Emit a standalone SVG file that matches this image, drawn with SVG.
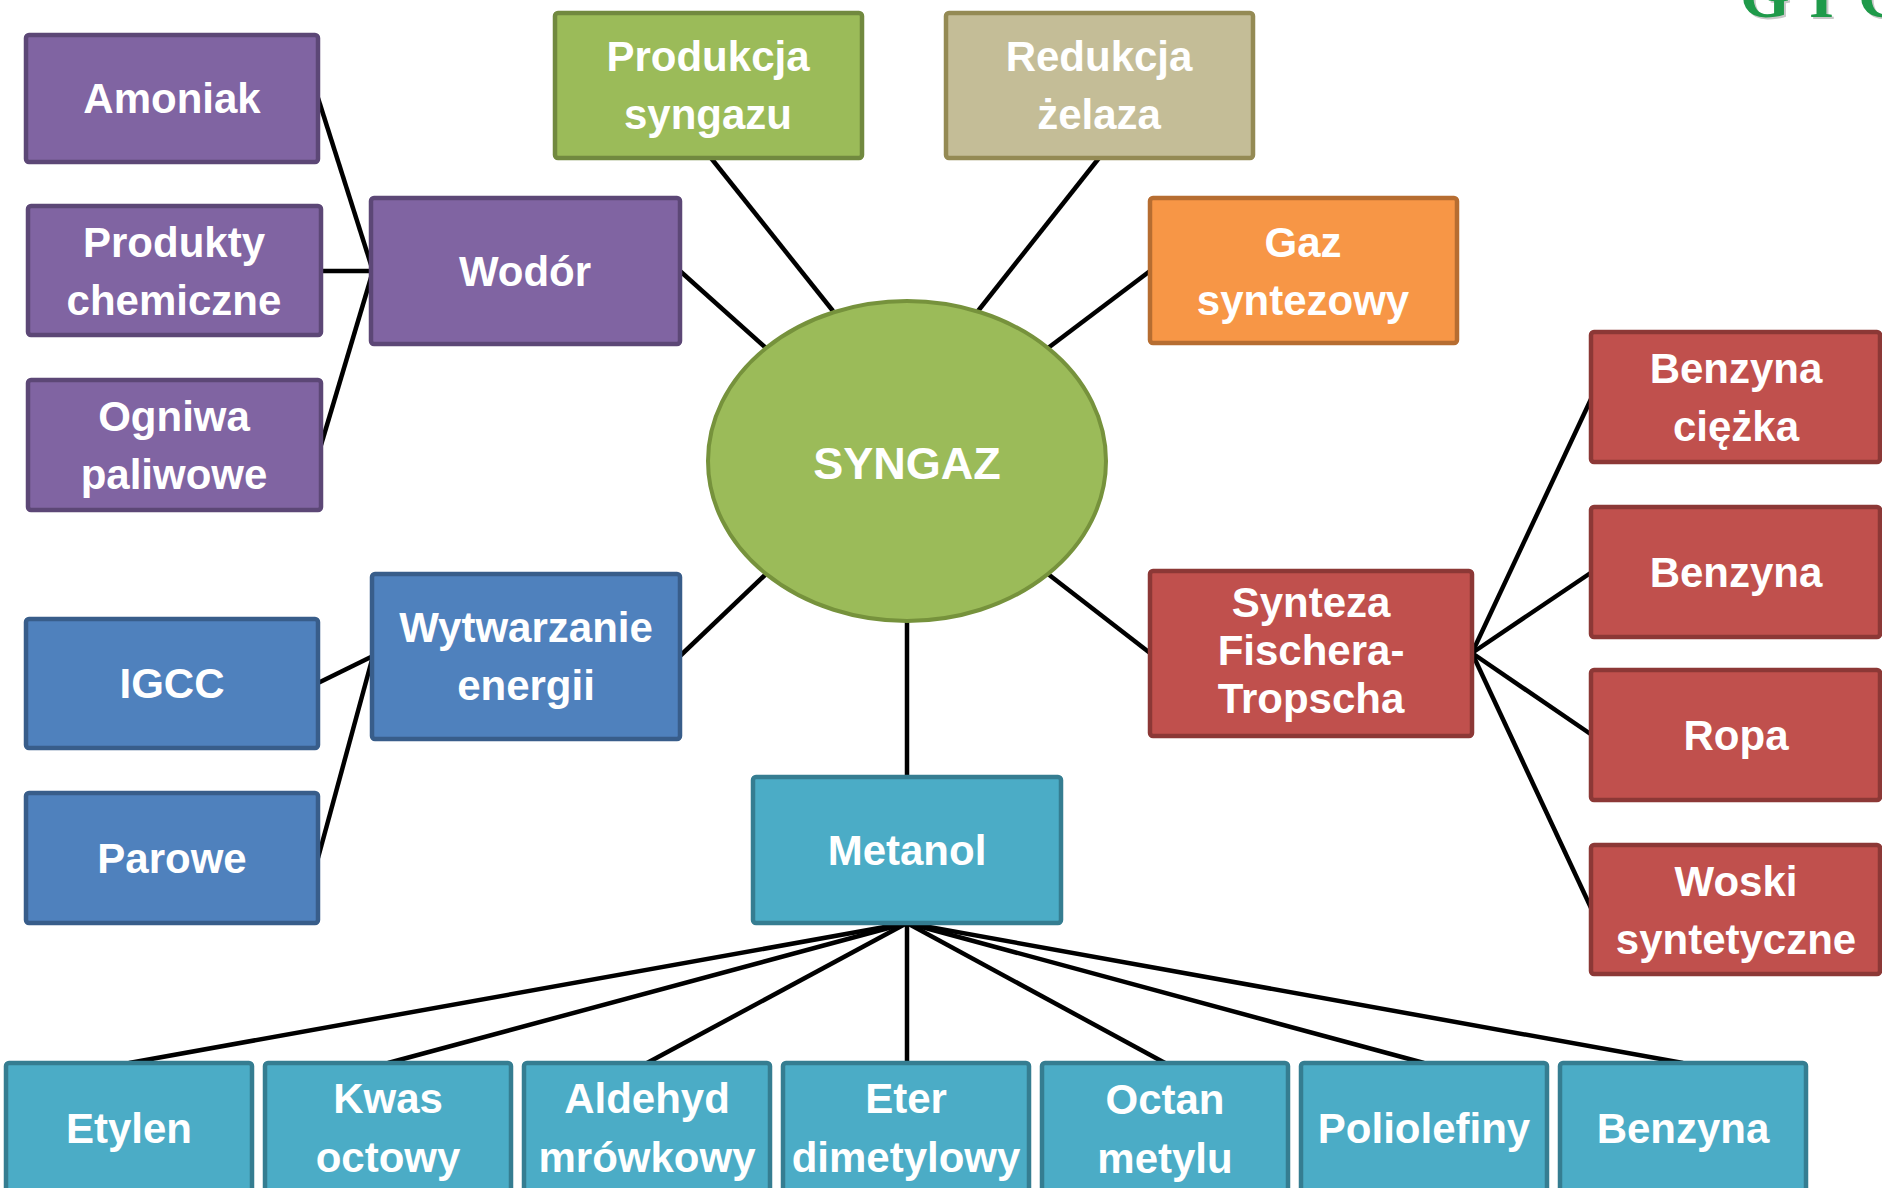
<svg xmlns="http://www.w3.org/2000/svg" width="1882" height="1188" viewBox="0 0 1882 1188">
  <style>
    .box { stroke-width: 4.5; }
    .purple { fill: #8064a2; stroke: #5c4776; }
    .blue { fill: #4f81bd; stroke: #385d8a; }
    .red { fill: #c0504d; stroke: #8c3836; }
    .green { fill: #9bbb59; stroke: #71893f; }
    .tan { fill: #c4bd97; stroke: #948a54; }
    .orange { fill: #f79646; stroke: #b66d31; }
    .aqua { fill: #4bacc6; stroke: #357d91; }
    .lbl { font-family: "Liberation Sans", Arial, sans-serif; font-weight: bold; font-size: 42px; fill: #ffffff; text-anchor: middle; }
    .hub { font-size: 45px; }
    .links line { stroke: #000000; stroke-width: 4.5; }
    .logo { font-family: "Liberation Serif", "Times New Roman", serif; font-weight: bold; font-size: 64px; }
  </style>

  <rect width="1882" height="1188" fill="#ffffff"/>

  <!-- logo lettering, cut by the top edge -->
  <g id="logo">
    <text class="logo" x="1742" y="19" fill="#c8c8c8">
      <tspan x="1742">G</tspan><tspan x="1811">I</tspan><tspan x="1860">G</tspan>
    </text>
    <text class="logo" x="1740" y="17" fill="#1f9a4a">
      <tspan x="1740">G</tspan><tspan x="1809">I</tspan><tspan x="1858">G</tspan>
    </text>
  </g>

  <!-- connectors -->
  <g id="connectors" class="links">
    <line x1="318" y1="98" x2="373" y2="271"/>
    <line x1="321" y1="271" x2="373" y2="271"/>
    <line x1="321" y1="445" x2="373" y2="271"/>
    <line x1="680" y1="271" x2="766" y2="348"/>
    <line x1="711" y1="158" x2="833" y2="311"/>
    <line x1="1099" y1="158" x2="978" y2="311"/>
    <line x1="1150" y1="271" x2="1048" y2="348"/>
    <line x1="680" y1="656" x2="766" y2="574"/>
    <line x1="318" y1="683" x2="373" y2="656"/>
    <line x1="318" y1="858" x2="373" y2="656"/>
    <line x1="1150" y1="653" x2="1048" y2="574"/>
    <line x1="1472" y1="653" x2="1592" y2="397"/>
    <line x1="1472" y1="653" x2="1592" y2="572"/>
    <line x1="1472" y1="653" x2="1592" y2="735"/>
    <line x1="1472" y1="653" x2="1592" y2="910"/>
    <line x1="907" y1="621" x2="907" y2="777"/>
    <line x1="907" y1="923" x2="129" y2="1063"/>
    <line x1="907" y1="923" x2="388" y2="1063"/>
    <line x1="907" y1="923" x2="647" y2="1063"/>
    <line x1="907" y1="923" x2="907" y2="1063"/>
    <line x1="907" y1="923" x2="1165" y2="1063"/>
    <line x1="907" y1="923" x2="1424" y2="1063"/>
    <line x1="907" y1="923" x2="1683" y2="1063"/>
  </g>

  <!-- central hub -->
  <g id="syngaz">
    <ellipse cx="907" cy="461" rx="199" ry="160" fill="#9bbb59" stroke="#76923c" stroke-width="4"/>
    <text class="lbl hub" x="907" y="479">SYNGAZ</text>
  </g>

  <!-- hydrogen branch -->
  <g id="amoniak">
    <rect class="box purple" x="26" y="35" width="292" height="127" rx="3"/>
    <text class="lbl" x="172" y="113">Amoniak</text>
  </g>
  <g id="produkty-chemiczne">
    <rect class="box purple" x="28" y="206" width="293" height="129" rx="3"/>
    <text class="lbl" x="174" y="257">Produkty</text>
    <text class="lbl" x="174" y="315">chemiczne</text>
  </g>
  <g id="ogniwa-paliwowe">
    <rect class="box purple" x="28" y="380" width="293" height="130" rx="3"/>
    <text class="lbl" x="174" y="431">Ogniwa</text>
    <text class="lbl" x="174" y="489">paliwowe</text>
  </g>
  <g id="wodor">
    <rect class="box purple" x="371" y="198" width="309" height="146" rx="3"/>
    <text class="lbl" x="525" y="286">Wodór</text>
  </g>

  <!-- upper branches -->
  <g id="produkcja-syngazu">
    <rect class="box green" x="555" y="13" width="307" height="145" rx="3"/>
    <text class="lbl" x="708" y="71">Produkcja</text>
    <text class="lbl" x="708" y="129">syngazu</text>
  </g>
  <g id="redukcja-zelaza">
    <rect class="box tan" x="946" y="13" width="307" height="145" rx="3"/>
    <text class="lbl" x="1099" y="71">Redukcja</text>
    <text class="lbl" x="1099" y="129">żelaza</text>
  </g>
  <g id="gaz-syntezowy">
    <rect class="box orange" x="1150" y="198" width="307" height="145" rx="3"/>
    <text class="lbl" x="1303" y="257">Gaz</text>
    <text class="lbl" x="1303" y="315">syntezowy</text>
  </g>

  <!-- energy branch -->
  <g id="wytwarzanie-energii">
    <rect class="box blue" x="372" y="574" width="308" height="165" rx="3"/>
    <text class="lbl" x="526" y="642">Wytwarzanie</text>
    <text class="lbl" x="526" y="700">energii</text>
  </g>
  <g id="igcc">
    <rect class="box blue" x="26" y="619" width="292" height="129" rx="3"/>
    <text class="lbl" x="172" y="698">IGCC</text>
  </g>
  <g id="parowe">
    <rect class="box blue" x="26" y="793" width="292" height="130" rx="3"/>
    <text class="lbl" x="172" y="873">Parowe</text>
  </g>

  <!-- Fischer-Tropsch branch -->
  <g id="synteza-ft">
    <rect class="box red" x="1150" y="571" width="322" height="165" rx="3"/>
    <text class="lbl" x="1311" y="617">Synteza</text>
    <text class="lbl" x="1311" y="665">Fischera-</text>
    <text class="lbl" x="1311" y="713">Tropscha</text>
  </g>
  <g id="benzyna-ciezka">
    <rect class="box red" x="1591" y="332" width="289" height="130" rx="3"/>
    <text class="lbl" x="1736" y="383">Benzyna</text>
    <text class="lbl" x="1736" y="441">ciężka</text>
  </g>
  <g id="benzyna-ft">
    <rect class="box red" x="1591" y="507" width="289" height="130" rx="3"/>
    <text class="lbl" x="1736" y="587">Benzyna</text>
  </g>
  <g id="ropa">
    <rect class="box red" x="1591" y="670" width="289" height="130" rx="3"/>
    <text class="lbl" x="1736" y="750">Ropa</text>
  </g>
  <g id="woski">
    <rect class="box red" x="1591" y="845" width="289" height="129" rx="3"/>
    <text class="lbl" x="1736" y="896">Woski</text>
    <text class="lbl" x="1736" y="954">syntetyczne</text>
  </g>

  <!-- methanol branch -->
  <g id="metanol">
    <rect class="box aqua" x="753" y="777" width="308" height="146" rx="3"/>
    <text class="lbl" x="907" y="865">Metanol</text>
  </g>
  <g id="etylen">
    <rect class="box aqua" x="6" y="1063" width="246" height="130" rx="3"/>
    <text class="lbl" x="129" y="1143">Etylen</text>
  </g>
  <g id="kwas-octowy">
    <rect class="box aqua" x="265" y="1063" width="246" height="130" rx="3"/>
    <text class="lbl" x="388" y="1113">Kwas</text>
    <text class="lbl" x="388" y="1172">octowy</text>
  </g>
  <g id="aldehyd-mrowkowy">
    <rect class="box aqua" x="524" y="1063" width="246" height="130" rx="3"/>
    <text class="lbl" x="647" y="1113">Aldehyd</text>
    <text class="lbl" x="647" y="1172">mrówkowy</text>
  </g>
  <g id="eter-dimetylowy">
    <rect class="box aqua" x="783" y="1063" width="246" height="130" rx="3"/>
    <text class="lbl" x="906" y="1113">Eter</text>
    <text class="lbl" x="906" y="1172">dimetylowy</text>
  </g>
  <g id="octan-metylu">
    <rect class="box aqua" x="1042" y="1063" width="246" height="130" rx="3"/>
    <text class="lbl" x="1165" y="1114">Octan</text>
    <text class="lbl" x="1165" y="1173">metylu</text>
  </g>
  <g id="poliolefiny">
    <rect class="box aqua" x="1301" y="1063" width="246" height="130" rx="3"/>
    <text class="lbl" x="1424" y="1143">Poliolefiny</text>
  </g>
  <g id="benzyna-metanol">
    <rect class="box aqua" x="1560" y="1063" width="246" height="130" rx="3"/>
    <text class="lbl" x="1683" y="1143">Benzyna</text>
  </g>
</svg>
